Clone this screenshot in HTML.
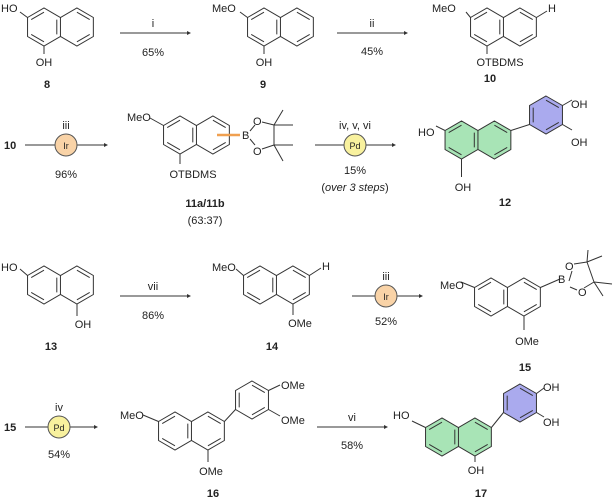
<!DOCTYPE html>
<html><head><meta charset="utf-8"><style>
html,body{margin:0;padding:0;background:#fff;}
svg{display:block;}
text{font-family:"Liberation Sans",sans-serif;font-size:11px;fill:#222;}
.b{font-weight:bold;}
.m{text-anchor:middle;}
</style></head><body>
<svg width="614" height="499" viewBox="0 0 614 499" xmlns="http://www.w3.org/2000/svg">
<defs>
<g id="naphL" fill="none" stroke="#333" stroke-width="1">
<path d="M-16.45,-9.5 L0,-19 L16.45,-9.5 L32.9,-19 L49.35,-9.5 L49.35,9.5 L32.9,19 L16.45,9.5 L0,19 L-16.45,9.5 Z M16.45,-9.5 L16.45,9.5"/>
<path d="M0,-14.8 L-12.8,-7.4 M-12.8,7.4 L0,14.8 M12.8,-7.4 L12.8,7.4 M32.9,-14.8 L45.7,-7.4 M45.7,7.4 L32.9,14.8"/>
</g>
<path id="naphF" d="M-16.45,-9.5 L0,-19 L16.45,-9.5 L32.9,-19 L49.35,-9.5 L49.35,9.5 L32.9,19 L16.45,9.5 L0,19 L-16.45,9.5 Z" fill="#a8e4b6" stroke="none"/>
<g id="benz" fill="none" stroke="#333" stroke-width="1">
<path d="M0,-19 L16.45,-9.5 L16.45,9.5 L0,19 L-16.45,9.5 L-16.45,-9.5 Z"/>
<path d="M0,-14.8 L12.8,-7.4 M12.8,7.4 L0,14.8 M-12.8,7.4 L-12.8,-7.4"/>
</g>
<path id="benzF" d="M0,-19 L16.45,-9.5 L16.45,9.5 L0,19 L-16.45,9.5 L-16.45,-9.5 Z" fill="#aaaaee" stroke="none"/>
</defs>
<g stroke="#333" stroke-width="1" fill="none">
<path d="M120,33 H188 M337,33 H405 M25,145 H105 M315,145 H393 M120,296 H188 M352,296 H420 M25,427 H95 M317,427 H385"/>
<path d="M27.5,17.5 L20,12 M44,46 L44,54"/>
<path d="M247.5,17.5 L240,12 M264,46 L264,54"/>
<path d="M470.5,17.5 L466,12 M487,46 L487,54 M536.4,17.5 L547,11"/>
<path d="M163.5,125.5 L150,118 M180,154 L180,164"/>
<path d="M250,131 L255,125 M262,122 L274,125 M274,125 L274,145 M274,145 L262,149 M250,139 L255,145 M274,125 L283,110 M274,125 L293,125 M274,145 L293,145 M274,145 L283,161"/>
<path d="M27.5,275.5 L20,269 M77,304 L77,316"/>
<path d="M243.5,275.5 L236,269 M293,304 L293,315 M309.4,275.5 L321,268"/>
<path d="M474.5,287.5 L461,282 M524,316 L524,330 M540.4,287.5 L560,279 M569,281 L572,271 M574,264 L587,262 M587,262 L594,282 M594,282 L584,288 M570,287 L577,290 M587,262 L588,250 M587,262 L602,256 M594,282 L612,284 M594,282 L603,296"/>
<path d="M158.5,421.5 L143,415 M208,450 L208,462 M224.4,421.5 L235.5,409.5 M268.5,390.5 L280,385 M268.5,409.5 L280,416"/>
</g>
<use href="#naphF" x="461.5" y="140"/>
<use href="#benzF" x="546" y="115"/>
<use href="#naphF" x="442" y="437"/>
<use href="#benzF" x="520" y="403"/>
<g stroke="#333" stroke-width="1" fill="none">
<path d="M445,130.5 L436,126 M461.5,159 L461.5,177 M510.9,130.5 L529.5,124.5 M562.5,105.5 L572,100 M562.5,124.5 L572,130"/>
<path d="M425.5,427.5 L412,421 M475,456 L475,462 M491.4,427.5 L503.5,412.5 M536.5,393.5 L544,388 M536.5,412.5 L544,417"/>
</g>
<use href="#naphL" x="44" y="27"/>
<use href="#naphL" x="264" y="27"/>
<use href="#naphL" x="487" y="27"/>
<use href="#naphL" x="180" y="135"/>
<use href="#naphL" x="461.5" y="140"/>
<use href="#benz" x="546" y="115"/>
<use href="#naphL" x="44" y="285"/>
<use href="#naphL" x="260" y="285"/>
<use href="#naphL" x="491" y="297"/>
<use href="#naphL" x="175" y="431"/>
<use href="#benz" x="252" y="400"/>
<use href="#naphL" x="442" y="437"/>
<use href="#benz" x="520" y="403"/>
<g fill="#333">
<path d="M191,33 l-4,-2 v4z M408,33 l-4,-2 v4z M108,145 l-4,-2 v4z M396,145 l-4,-2 v4z M191,296 l-4,-2 v4z M423,296 l-4,-2 v4z M98,427 l-4,-2 v4z M388,427 l-4,-2 v4z"/>
</g>
<path d="M217,135 H240" stroke="#f0a050" stroke-width="2.5"/>
<circle cx="66" cy="145" r="11" fill="#f9d3a7" stroke="#555" stroke-width="1"/>
<circle cx="355" cy="145" r="11" fill="#f8f19e" stroke="#555" stroke-width="1"/>
<circle cx="386" cy="296" r="11" fill="#f9d3a7" stroke="#555" stroke-width="1"/>
<circle cx="59" cy="427" r="11" fill="#f8f19e" stroke="#555" stroke-width="1"/>
<text x="66" y="149" class="m" style="font-size:9px">Ir</text>
<text x="355" y="149" class="m" style="font-size:9px">Pd</text>
<text x="386" y="300" class="m" style="font-size:9px">Ir</text>
<text x="59" y="431" class="m" style="font-size:9px">Pd</text>
<text x="153" y="27" class="m">i</text><text x="153" y="56" class="m">65%</text>
<text x="372" y="27" class="m">ii</text><text x="372" y="55" class="m">45%</text>
<text x="66" y="129" class="m">iii</text><text x="66" y="178" class="m">96%</text>
<text x="355" y="129" class="m">iv, v, vi</text><text x="355" y="174" class="m">15%</text>
<text x="355" y="191" class="m">(<tspan font-style="italic">over 3 steps</tspan>)</text>
<text x="153" y="290" class="m">vii</text><text x="153" y="319" class="m">86%</text>
<text x="386" y="280" class="m">iii</text><text x="386" y="325" class="m">52%</text>
<text x="59" y="411" class="m">iv</text><text x="59" y="458" class="m">54%</text>
<text x="352" y="421" class="m">vi</text><text x="352" y="449" class="m">58%</text>
<text x="1" y="12">HO</text><text x="44" y="66" class="m">OH</text>
<text x="212" y="12">MeO</text><text x="264" y="66" class="m">OH</text>
<text x="432" y="12">MeO</text><text x="500" y="66" class="m">OTBDMS</text><text x="548" y="12">H</text>
<text x="127" y="121">MeO</text><text x="193" y="178" class="m">OTBDMS</text>
<text x="242" y="139">B</text><text x="253" y="125">O</text><text x="253" y="155">O</text>
<text x="418" y="136">HO</text><text x="463" y="191" class="m">OH</text>
<text x="571" y="108">OH</text><text x="571" y="146">OH</text>
<text x="1" y="271">HO</text><text x="83" y="328" class="m">OH</text>
<text x="212" y="271">MeO</text><text x="300" y="327" class="m">OMe</text><text x="322" y="270">H</text>
<text x="440" y="289">MeO</text><text x="527" y="345" class="m">OMe</text>
<text x="558" y="283">B</text><text x="565" y="270">O</text><text x="578" y="296">O</text>
<text x="120" y="419">MeO</text><text x="211" y="475" class="m">OMe</text>
<text x="281" y="389">OMe</text><text x="281" y="424">OMe</text>
<text x="393" y="419">HO</text><text x="476" y="474" class="m">OH</text>
<text x="543" y="391">OH</text><text x="543" y="426">OH</text>
<text x="47" y="88" class="m b">8</text>
<text x="263" y="88" class="m b">9</text>
<text x="490" y="82" class="m b">10</text>
<text x="4" y="149" class="b">10</text>
<text x="205" y="207" class="m b">11a/11b</text>
<text x="205" y="224" class="m">(63:37)</text>
<text x="505" y="206" class="m b">12</text>
<text x="51" y="350" class="m b">13</text>
<text x="272" y="350" class="m b">14</text>
<text x="525" y="371" class="m b">15</text>
<text x="4" y="431" class="b">15</text>
<text x="213" y="497" class="m b">16</text>
<text x="481" y="497" class="m b">17</text>
</svg>
</body></html>
